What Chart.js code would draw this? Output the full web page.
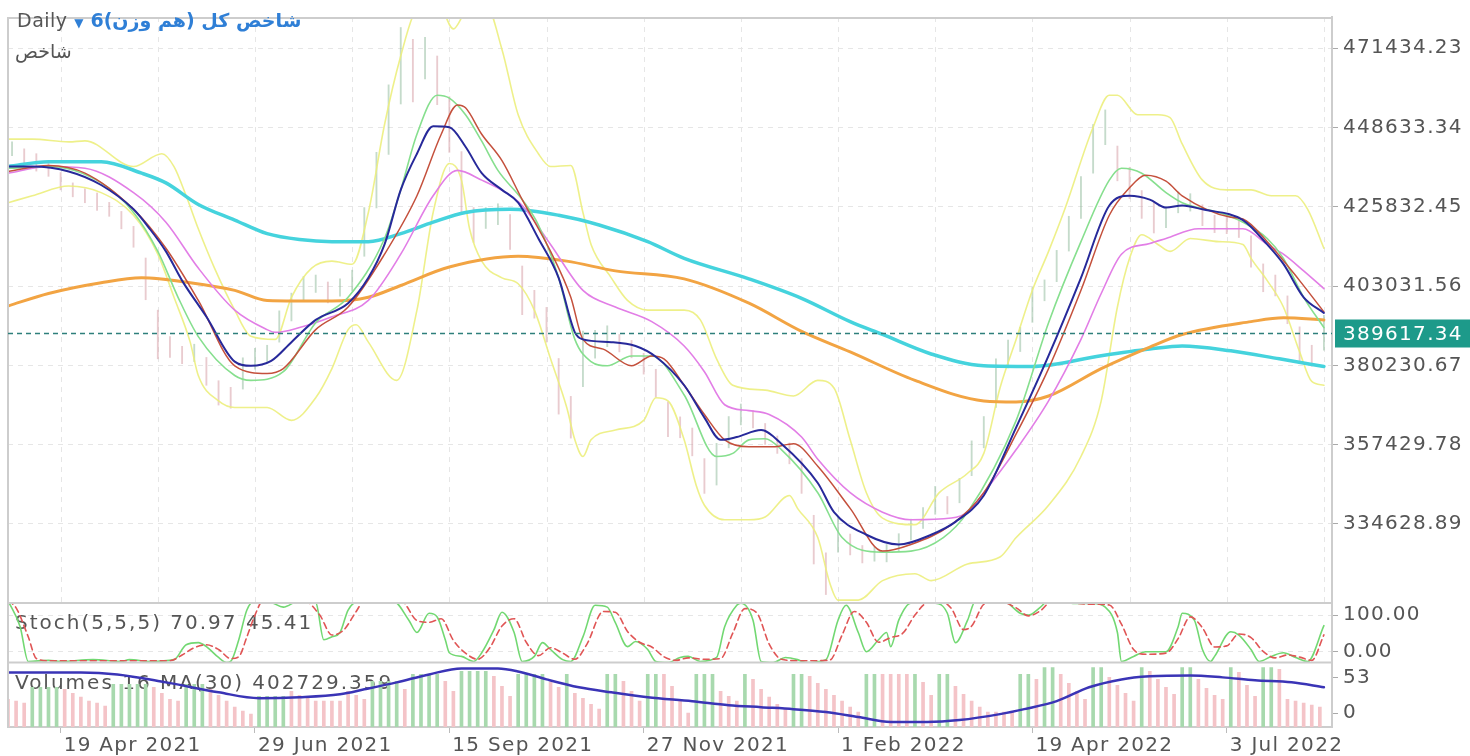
<!DOCTYPE html>
<html>
<head>
<meta charset="utf-8">
<script src="https://cdn.jsdelivr.net/npm/chart.js@4.4.1/dist/chart.umd.min.js"></script>
<style>
  body { margin: 0; background: #fff; }
  #wrap { position: relative; width: 1470px; height: 756px; }
  #title { position: absolute; left: 17px; top: 9px; font: 19px "DejaVu Sans"; letter-spacing: 0.5px; white-space: nowrap; }
  #sub { position: absolute; left: 15px; top: 40px; font: 19px "DejaVu Sans"; color: #555; }
</style>
</head>
<body>
<div id="wrap">
  <canvas id="chart" width="1470" height="756"></canvas>
  <div id="title"><span style="color:#555">Daily</span> <span style="color:#2f7fd6;font-size:12px">▼</span> <bdi dir="rtl" style="color:#2f7fd6;font-weight:bold;letter-spacing:0">شاخص کل (هم وزن)6</bdi></div>
  <div id="sub"><bdi dir="rtl">شاخص</bdi></div>
</div>
<script>
// price series are in thousands of index points, x is the bar number
const UNIT = 1000;
const lastPrice = 389617.34;
const priceTicks = [471434.23, 448633.34, 425832.45, 403031.56, 380230.67, 357429.78, 334628.89];

const dateTickIdx = [13, 61, 109, 157, 205, 253, 301];
const dateLabels = ['19 Apr 2021', '29 Jun 2021', '15 Sep 2021', '27 Nov 2021', '1 Feb 2022', '19 Apr 2022', '3 Jul 2022'];

const maCyan = [[0,437.4],[10,438.8],[23,438.8],[33,435.5],[39,432.7],[47,426.5],[56,422.0],[64,418.1],[72,416.4],[80,415.8],[89,415.8],[97,418.1],[105,421.4],[113,424.2],[124,425.1],[136,423.4],[146,420.6],[158,415.8],[167,411.0],[183,405.1],[196,399.5],[208,392.8],[216,389.1],[228,383.5],[241,380.1],[253,379.9],[270,383.0],[282,384.9],[290,385.8],[302,384.4],[314,382.1],[325,379.9]];

const maOrange = [[0,397.3],[10,400.9],[23,404.0],[33,405.4],[45,404.0],[56,401.8],[64,398.9],[80,398.7],[89,399.8],[97,403.2],[109,408.5],[126,411.6],[138,410.2],[150,407.4],[167,405.1],[183,398.1],[196,390.0],[208,384.1],[224,375.9],[241,370.0],[249,369.7],[257,371.4],[270,379.3],[282,385.5],[290,389.1],[307,392.8],[315,393.9],[325,393.3]];

const maNavy = [[0,437.4],[6,437.4],[15,436.0],[23,432.1],[31,425.1],[35,419.5],[39,413.0],[43,404.6],[49,394.2],[56,381.3],[60,380.1],[65,381.5],[70,386.9],[76,393.3],[84,398.1],[89,405.4],[93,415.0],[97,430.7],[101,441.1],[105,449.0],[109,448.7],[113,443.1],[117,435.5],[122,430.7],[126,427.0],[131,416.7],[136,405.4],[140,389.7],[142,387.7],[149,386.9],[155,385.8],[160,382.7],[167,374.5],[172,365.2],[176,358.8],[180,359.6],[186,361.6],[191,357.7],[200,346.4],[204,338.0],[212,331.5],[220,328.7],[228,331.5],[234,335.2],[241,342.8],[249,362.4],[257,383.0],[265,405.4],[272,426.2],[277,429.0],[282,427.9],[286,425.6],[290,426.2],[295,425.1],[305,422.0],[311,415.0],[315,409.4],[320,399.8],[325,395.3]];

const maRed = [[0,436.0],[10,437.7],[19,435.5],[31,425.1],[39,413.9],[47,398.9],[56,380.1],[64,377.9],[68,379.3],[76,390.5],[84,397.0],[93,412.2],[101,429.0],[107,446.7],[111,455.1],[113,454.3],[117,446.7],[122,439.1],[127,427.9],[134,413.0],[139,399.8],[142,387.7],[147,384.9],[154,380.1],[159,382.9],[162,382.1],[167,374.5],[172,366.1],[177,358.8],[183,356.8],[189,356.8],[194,357.7],[200,351.2],[208,339.1],[216,326.8],[223,328.7],[233,334.4],[241,343.6],[249,360.5],[257,379.3],[265,401.8],[272,423.4],[277,431.3],[281,434.9],[286,433.2],[290,429.0],[302,422.8],[305,422.3],[311,415.8],[319,404.6],[325,395.6]];

const maGreen = [[0,436.9],[10,437.4],[23,432.7],[31,424.2],[37,413.0],[42,399.8],[47,388.5],[56,377.3],[60,375.9],[68,378.4],[76,392.5],[84,399.8],[93,416.7],[97,430.7],[101,446.7],[106,457.9],[109,457.1],[113,452.3],[117,444.7],[121,436.3],[127,427.9],[131,420.6],[136,405.4],[140,387.7],[144,381.3],[148,380.1],[154,382.9],[159,382.9],[167,371.7],[175,354.0],[179,354.9],[183,358.8],[187,359.1],[191,356.0],[200,343.6],[206,330.7],[216,326.5],[223,326.8],[231,330.7],[237,338.0],[249,364.4],[257,392.5],[265,415.8],[272,433.5],[275,436.9],[280,435.5],[286,429.9],[290,427.0],[299,424.2],[305,421.4],[311,416.7],[315,411.0],[320,399.8],[325,391.1]];

const maViolet = [[0,435.5],[10,437.4],[19,436.9],[31,429.9],[39,421.4],[47,408.2],[56,396.1],[64,390.5],[66,389.7],[72,391.1],[80,394.2],[89,398.9],[97,412.2],[105,429.0],[111,436.3],[117,433.5],[123,429.9],[127,426.2],[134,415.0],[142,401.8],[150,397.0],[159,392.8],[167,385.8],[172,378.4],[177,368.9],[183,367.2],[188,366.1],[196,359.6],[200,353.2],[208,343.6],[216,338.0],[223,335.8],[233,336.3],[237,338.0],[241,343.6],[249,356.0],[257,370.0],[265,387.7],[270,400.9],[275,412.2],[282,415.3],[286,416.7],[294,419.5],[305,419.5],[311,415.0],[315,412.2],[320,407.4],[325,402.3]];

const bbUpper = [[0,445.3],[6,445.3],[15,444.5],[19,444.8],[31,437.4],[38,441.1],[41,437.4],[44,429.0],[47,419.5],[51,408.2],[56,396.1],[60,388.6],[66,387.7],[70,399.8],[75,408.2],[80,410.2],[85,409.3],[89,424.2],[93,449.5],[97,469.2],[101,483],[106,485],[110,477],[113,482],[118,484],[122,471.1],[126,452.3],[131,441.1],[134,437.4],[139,437.7],[142,424.2],[144,415.0],[149,405.4],[153,398.9],[158,396.1],[167,396.1],[171,393.3],[175,382.1],[179,374.5],[187,373.1],[194,371.4],[200,375.9],[204,373.7],[208,358.8],[212,343.6],[216,336.3],[224,334.4],[230,343.6],[237,349.2],[241,354.9],[245,373.7],[249,387.7],[253,401.8],[257,413.0],[261,425.1],[268,448.7],[272,457.9],[274,457.9],[279,452.3],[284,452.3],[287,451.5],[290,443.9],[295,433.5],[301,430.7],[307,430.7],[312,429.0],[318,429.0],[321,425.1],[325,413.9]];

const bbLower = [[0,427.0],[6,429.0],[15,431.8],[23,429.9],[31,423.4],[37,412.2],[41,399.8],[45,386.9],[47,377.3],[52,370.0],[56,368.1],[64,368.1],[70,364.4],[76,370.9],[80,379.3],[84,390.5],[86,391.9],[89,386.9],[96,375.9],[101,396.1],[105,424.2],[109,438.3],[112,433.5],[114,419.5],[117,410.2],[122,405.4],[126,403.7],[130,396.1],[134,382.1],[138,368.1],[140,358.8],[142,354.0],[144,358.8],[150,361.6],[157,364.4],[160,370.9],[163,370.0],[167,358.8],[170,345.6],[172,340.0],[177,335.8],[183,335.8],[187,336.6],[193,342.8],[195,339.1],[200,330.7],[203,317.5],[205,312.7],[210,312.7],[216,318.3],[224,320.3],[228,318.3],[237,323.1],[245,325.1],[249,330.7],[257,340.0],[265,354.0],[270,370.0],[274,397.0],[277,411.0],[280,417.8],[284,415.0],[287,413.0],[292,416.7],[299,415.8],[305,415.0],[307,411.0],[311,404.6],[315,397.0],[319,384.1],[322,375.6],[325,374.5]];

// one price bar every CANDLE_STEP bars: middle of the bar and high-low span
const CANDLE_STEP = 3;
const candleMid = [
  442.5,440.5,438.6,436.6,433.2,430.7,429.0,427.3,425.1,422.0,
  417.2,405.1,389.1,385.5,383.2,383.8,378.5,372.3,370.9,377.9,
  382.1,383.5,391.4,397.0,402.3,403.7,401.2,402.6,404.6,418.6,
  433.5,450.9,466.4,465.0,468.6,462.2,449.5,432.7,420.6,422.6,
  423.7,418.6,401.8,397.8,391.9,374.2,365.3,382.1,386.3,388.6,
  386.6,384.9,380.7,375.1,364.7,362.4,358.2,348.4,351.8,361.0,
  366.1,364.7,360.5,357.4,354.9,348.4,330.1,320.3,331.5,328.7,
  325.9,325.9,326.2,329.3,333.0,336.3,341.4,340.0,344.2,353.5,
  361.0,375.1,383.5,387.7,397.6,401.8,408.8,418.1,428.5,442.5,
  448.7,438.3,432.7,426.5,422.8,422.8,427.1,427.1,423.4,420.9,
  420.6,420.0,413.0,405.4,403.2,396.2,386.3,383.0,389.6
];
const candleSpan = [
  4,4,5,4,5,4,4,5,4,5,6,
  12,14,6,5,5,8,7,6,9,6,
  5,9,8,7,5,6,5,6,14,16,
  20,22,18,12,14,16,18,10,6,6,
  10,14,8,10,16,12,16,8,6,5,
  5,6,8,10,6,8,10,12,9,6,
  5,6,5,6,10,14,12,10,6,5,
  4,5,5,6,6,8,5,7,10,9,
  14,8,7,10,6,9,10,12,14,10,
  10,9,8,9,6,6,5,6,5,5,
  6,9,8,6,8,10,6,10
];

const stochK = [[0,140],[3,68],[5,-28],[10,-25],[13,-28],[21,-23],[28,-28],[30,-23],[35,-28],[41,-23],[44,18],[47,24],[49,13],[52,-17],[54,-31],[55,-28],[57,32],[59,114],[61,140],[65,135],[68,122],[72,140],[76,135],[78,32],[80,40],[82,52],[84,114],[87,140],[95,140],[99,86],[101,52],[104,105],[106,95],[108,32],[109,-4],[112,-14],[115,-28],[117,-4],[120,59],[122,108],[125,52],[127,-28],[130,-14],[132,24],[134,5],[137,-23],[139,-28],[142,40],[145,127],[148,122],[150,79],[153,13],[155,27],[158,5],[160,-28],[163,-31],[166,-17],[168,-14],[171,-28],[175,-17],[177,68],[180,127],[181,133],[184,86],[186,-28],[189,-31],[192,-17],[195,-23],[197,-31],[202,-23],[205,86],[207,127],[210,52],[212,-1],[215,32],[217,52],[218,13],[220,86],[223,133],[229,133],[232,105],[234,24],[237,86],[239,140],[246,140],[247,133],[250,105],[252,100],[255,122],[257,140],[261,140],[263,132],[268,132],[271,122],[274,52],[275,-28],[278,-14],[281,-1],[286,-1],[289,68],[290,105],[293,86],[295,5],[297,-28],[298,-14],[302,54],[304,45],[307,5],[309,-28],[312,-14],[315,-4],[318,-17],[321,-28],[325,70.97]];

const stochD = [[0,140],[2,120],[5,40],[7,-20],[10,-26],[21,-26],[30,-26],[40,-26],[43,-10],[46,10],[49,18],[52,5],[55,-20],[57,-15],[59,40],[61,100],[63,140],[73,140],[77,100],[80,45],[83,60],[86,110],[88,140],[97,140],[101,85],[104,80],[107,90],[110,30],[113,-5],[116,-22],[119,10],[122,70],[125,90],[128,25],[131,-12],[134,10],[137,-5],[140,-22],[143,20],[147,110],[150,108],[153,55],[156,25],[159,12],[162,-15],[165,-25],[168,-18],[172,-22],[176,-20],[179,50],[182,118],[185,105],[188,20],[191,-22],[195,-26],[199,-26],[203,-24],[206,45],[209,110],[212,80],[215,25],[218,38],[221,50],[224,100],[227,133],[231,135],[233,118],[236,60],[238,70],[241,130],[244,140],[249,120],[252,98],[255,112],[258,140],[262,135],[268,130],[272,128],[275,75],[278,5],[281,-8],[286,-5],[289,35],[292,95],[295,65],[298,12],[301,15],[304,48],[307,38],[310,0],[313,-18],[316,-10],[319,-16],[322,-25],[325,45.41]];

// one volume bar every VOL_STEP bars, g = up day, p = down day
const VOL_STEP = 2;
const volume = [
  20.6,17.7,14.7, 38.3,38.3,38.3,38.3, 35.3,29.4,23.6,17.7,14.7,10.3, 42.7,42.7,42.7,42.7,42.7,
  38.3,29.4,20.6,17.7, 42.7,42.7,42.7, 35.3,26.5,17.7,8.8,2.9,-1.5, 25,25,25,25,
  32.4,26.5,22.1,17.7,17.7,17.7,17.7,32.4,26.5,20.6, 47.1,47.1,47.1,47.1, 35.3, 57.4,57.4,57.4,57.4,
  47.1,32.4, 61.8,61.8,61.8,61.8, 54.5,39.7,25, 57.4,57.4,57.4,57.4, 45.6,38.3, 57.4,
  29.4,22.1,13.2,5.9, 57.4,57.4, 47.1,32.4,17.7, 57.4,57.4, 57.4,39.7,17.7,0, 57.4,57.4,57.4,
  32.4,25,17.7, 57.4, 50,35.3,23.6,13.2,5.9, 57.4,57.4, 54.5,44.2,35.3,26.5,17.7,8.8,1.5,
  57.4,57.4, 57.4,57.4,57.4,57.4, 57.4, 45.6,26.5, 57.4,57.4, 39.7,28,17.7,8.8,1.5,1.5,1.5,1.5,
  57.4,57.4, 50, 67.7,67.7, 57.4,44.2,32.4,20.6, 67.7,67.7, 53,41.2,29.4,17.7, 67.7,
  61.8,50,38.3,28, 67.7,67.7, 50,36.8,26.5,20.6, 67.7, 60.4,41.2,25, 67.7,67.7,
  64.8,20.6,17.7,14.7,11.8,8.8
];
const volDir =
  'ppp' + 'gggg' + 'pppppp' + 'ggggg' +
  'pppp' + 'ggg' + 'pppppp' + 'gggg' +
  'pppppppppp' + 'gggg' + 'p' + 'gggg' +
  'pp' + 'gggg' + 'ppp' + 'gggg' + 'pp' + 'g' +
  'pppp' + 'gg' + 'ppp' + 'gg' + 'pppp' + 'ggg' +
  'ppp' + 'g' + 'ppppp' + 'gg' + 'ppppppp' +
  'gg' + 'pppp' + 'g' + 'pp' + 'gg' + 'pppppppp' +
  'gg' + 'p' + 'gg' + 'pppp' + 'gg' + 'pppp' + 'g' +
  'pppp' + 'gg' + 'pppp' + 'g' + 'ppp' + 'gg' +
  'pppppp';
const volMa = [[0,60.4],[18,60.4],[27,57.4],[39,45.6],[52,30.9],[62,22.1],[72,23.6],[82,28.0],[88,35.3],[96,45.6],[104,57.4],[112,66.2],[121,66.2],[126,61.8],[133,50.0],[141,38.3],[149,30.9],[158,23.6],[169,17.7],[178,11.8],[186,8.8],[194,5.9],[202,1.5],[210,-5.9],[218,-13.2],[227,-13.2],[235,-10.3],[245,-1.5],[251,5.9],[259,17.7],[267,38.3],[275,50.0],[282,54.5],[292,55.9],[300,53.0],[308,48.6],[317,45.6],[325,38.3]];
const volPeriod = 16;
const volMaLabel = '402729.359';

const stochTicks = [0, 100];
const volTicks = [0, 53];
const VOL_MIN = -20.6;
const GRID_FIRST = 13, GRID_STEP = 24;

const FONT = 'DejaVu Sans';
const pts = arr => arr.map(([x, y]) => ({ x, y }));

function line(arr, color, width, axis, extra) {
    return Object.assign({
        type: 'line', data: pts(arr), yAxisID: axis,
        borderColor: color, borderWidth: width, pointRadius: 0,
        fill: false, cubicInterpolationMode: 'monotone'
    }, extra || {});
}

const datasets = [
    line(maNavy, '#27299a', 2, 'y'),
    line(maRed, '#c4503c', 1.5, 'y'),
    line(maGreen, '#86df8e', 1.6, 'y'),
    line(maViolet, '#e27ee6', 1.6, 'y'),
    line(maOrange, '#f2a443', 3, 'y'),
    line(maCyan, '#45d3dd', 3.5, 'y'),
    line(bbUpper, 'rgba(236,238,125,0.9)', 1.6, 'y'),
    line(bbLower, 'rgba(236,238,125,0.9)', 1.6, 'y'),
    {
        type: 'bar', yAxisID: 'y', grouped: false, barThickness: 1.2,
        data: candleMid.map((m, k) => ({ x: 1 + CANDLE_STEP * k, y: [m - candleSpan[k] / 2, m + candleSpan[k] / 2] })),
        backgroundColor: candleMid.map((m, k) => (k > 0 && m < candleMid[k - 1]) ? 'rgba(215,160,168,0.55)' : 'rgba(150,190,160,0.55)')
    },
    line(stochD, '#e05555', 1.6, 'ys', { borderDash: [6, 4] }),
    line(stochK, '#72d872', 1.6, 'ys'),
    line(volMa, '#3a34b6', 2.5, 'yv'),
    {
        type: 'bar', yAxisID: 'yv', grouped: false, barThickness: 3, base: VOL_MIN,
        data: volume.map((v, j) => ({ x: VOL_STEP * j, y: v })),
        backgroundColor: volume.map((v, j) => volDir[j] === 'g' ? '#a8d9ae' : '#f4c4c8')
    }
];

const tickFont = { family: FONT, size: 20 };
function rightAxis(weight, min, max, tickVals, fmt, gridOn) {
    return {
        type: 'linear', position: 'right', stack: 'panes', stackWeight: weight,
        min, max, offset: false,
        afterBuildTicks: s => { s.ticks = tickVals.map(v => ({ value: v })); },
        afterFit: s => { s.width = 138; },
        ticks: { callback: fmt, color: '#555', font: tickFont, padding: 5, autoSkip: false },
        grid: { drawOnChartArea: gridOn, color: '#e6e6e6', tickLength: 6, tickColor: '#aaa', tickBorderDash: [] },
        border: { display: true, color: '#cdcdcd', width: 2, dash: [5, 5] }
    };
}

// keep every dataset inside its own pane
const paneClip = {
    id: 'paneClip',
    beforeDatasetDraw(chart, args) {
        const s = chart.scales[args.meta.yAxisID];
        const a = chart.chartArea;
        chart.ctx.save();
        chart.ctx.beginPath();
        chart.ctx.rect(a.left, s.top, a.right - a.left, s.bottom - s.top);
        chart.ctx.clip();
    },
    afterDatasetDraw(chart) { chart.ctx.restore(); }
};

const panes = {
    id: 'panes',
    beforeDraw(chart) { chart.ctx.letterSpacing = '1.3px'; },
    beforeDatasetsDraw(chart) {
        const { ctx, chartArea: a, scales: { x, y, ys, yv } } = chart;
        ctx.save();
        ctx.strokeStyle = '#e6e6e6';
        ctx.lineWidth = 1;
        ctx.setLineDash([5, 5]);
        for (let i = GRID_FIRST; i <= x.max; i += GRID_STEP) {
            const px = Math.round(x.getPixelForValue(i)) + 0.5;
            ctx.beginPath(); ctx.moveTo(px, y.top); ctx.lineTo(px, y.bottom); ctx.stroke();
        }
        ctx.setLineDash([]);
        ctx.fillStyle = '#555';
        ctx.font = '20px "' + FONT + '"';
        ctx.letterSpacing = '2px';
        ctx.textBaseline = 'middle';
        const k = stochK[stochK.length - 1][1], d = stochD[stochD.length - 1][1];
        ctx.fillText(`Stoch(5,5,5) ${k.toFixed(2)} ${d.toFixed(2)}`, a.left + 7, ys.top + 21);
        ctx.fillText(`Volumes ${volPeriod} MA(30) ${volMaLabel}`, a.left + 7, yv.top + 21);
        ctx.restore();
    },
    afterDatasetsDraw(chart) {
        const { ctx, chartArea: a, scales: { y, ys, yv } } = chart;
        ctx.save();
        ctx.strokeStyle = '#cdcdcd';
        ctx.lineWidth = 2;
        ctx.beginPath();
        ctx.moveTo(a.left, ys.top); ctx.lineTo(a.right, ys.top);
        ctx.moveTo(a.left, yv.top); ctx.lineTo(a.right, yv.top);
        ctx.moveTo(a.left, a.top + 1); ctx.lineTo(a.right, a.top + 1);
        ctx.moveTo(a.left, a.top); ctx.lineTo(a.left, a.bottom);
        ctx.stroke();

        // last price line and tag
        const py = Math.round(y.getPixelForValue(lastPrice / UNIT)) + 0.5;
        ctx.strokeStyle = '#2e7f7b';
        ctx.lineWidth = 1.5;
        ctx.setLineDash([5, 4]);
        ctx.beginPath(); ctx.moveTo(a.left, py); ctx.lineTo(a.right, py); ctx.stroke();
        ctx.setLineDash([]);
        ctx.fillStyle = '#1d9a8a';
        ctx.fillRect(a.right + 3, py - 14, chart.width - a.right - 3, 28);
        ctx.fillStyle = '#fff';
        ctx.font = '20px "' + FONT + '"';
        ctx.letterSpacing = '1.3px';
        ctx.textBaseline = 'middle';
        ctx.fillText(lastPrice.toFixed(2), a.right + 11, py + 1);
        ctx.restore();
    }
};

new Chart(document.getElementById('chart'), {
    type: 'line',
    data: { datasets },
    options: {
        responsive: false,
        animation: false,
        events: [],
        layout: { padding: { left: 8, top: 0, right: 0, bottom: 0 } },
        plugins: { legend: { display: false }, tooltip: { enabled: false } },
        elements: { line: { borderJoinStyle: 'round', borderCapStyle: 'round' } },
        scales: {
            x: {
                type: 'linear', position: 'bottom', min: 0, max: 327, offset: false,
                afterBuildTicks: s => { s.ticks = dateTickIdx.map(v => ({ value: v })); },
                afterFit: s => { s.height = 29; },
                ticks: { callback: (v, i) => dateLabels[i], align: 'start', labelOffset: 3, color: '#555', font: tickFont, padding: 1, maxRotation: 0, autoSkip: false },
                grid: { offset: false, drawOnChartArea: false, tickLength: 6, tickColor: '#bbb' },
                border: { display: true, color: '#cdcdcd', width: 2 }
            },
            y: rightAxis(600, 311.88, 480.42, priceTicks.map(p => p / UNIT), v => (v * UNIT).toFixed(2), true),
            ys: rightAxis(61, -31, 133.5, stochTicks, v => v.toFixed(2), true),
            yv: rightAxis(66, VOL_MIN, 75, volTicks, v => String(v), false)
        }
    },
    plugins: [paneClip, panes]
});
</script>
</body>
</html>
